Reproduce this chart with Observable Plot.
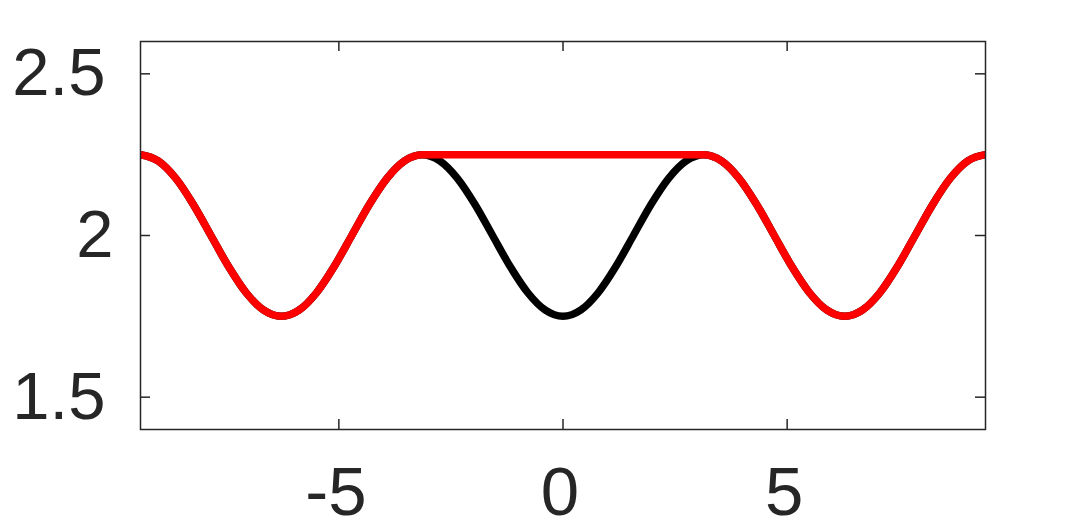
<!DOCTYPE html>
<html>
<head>
<meta charset="utf-8">
<script src="https://cdn.jsdelivr.net/npm/d3@7"></script>
<script src="https://cdn.jsdelivr.net/npm/@observablehq/plot@0.6"></script>
<style>
  html, body { margin: 0; padding: 0; background: #fff; }
  #chart svg { display: block; }
</style>
</head>
<body>
<div id="chart"></div>
<script>
const xValues = [
  -9.425, -9.032, -8.639, -8.247, -7.854, -7.461, -7.069, -6.676, -6.283,
  -5.890, -5.498, -5.105, -4.712, -4.320, -3.927, -3.534, -3.142,
  -2.749, -2.356, -1.963, -1.571, -1.178, -0.785, -0.393, 0,
  0.393, 0.785, 1.178, 1.571, 1.963, 2.356, 2.749, 3.142,
  3.534, 3.927, 4.320, 4.712, 5.105, 5.498, 5.890, 6.283,
  6.676, 7.069, 7.461, 7.854, 8.247, 8.639, 9.032, 9.425
];
const blackValues = [
  2.25, 2.231, 2.177, 2.096, 2.0, 1.904, 1.823, 1.769, 1.75,
  1.769, 1.823, 1.904, 2.0, 2.096, 2.177, 2.231, 2.25,
  2.231, 2.177, 2.096, 2.0, 1.904, 1.823, 1.769, 1.75,
  1.769, 1.823, 1.904, 2.0, 2.096, 2.177, 2.231, 2.25,
  2.231, 2.177, 2.096, 2.0, 1.904, 1.823, 1.769, 1.75,
  1.769, 1.823, 1.904, 2.0, 2.096, 2.177, 2.231, 2.25
];
const redValues = [
  2.25, 2.231, 2.177, 2.096, 2.0, 1.904, 1.823, 1.769, 1.75,
  1.769, 1.823, 1.904, 2.0, 2.096, 2.177, 2.231, 2.25,
  2.25, 2.25, 2.25, 2.25, 2.25, 2.25, 2.25, 2.25,
  2.25, 2.25, 2.25, 2.25, 2.25, 2.25, 2.25, 2.25,
  2.231, 2.177, 2.096, 2.0, 1.904, 1.823, 1.769, 1.75,
  1.769, 1.823, 1.904, 2.0, 2.096, 2.177, 2.231, 2.25
];
const xTicks = [-5, 0, 5];
const yTicks = [1.5, 2, 2.5];
const yTicksFrac = [1.5, 2.5];
const yTicksInt = [2];
const xDomain = [-9.425, 9.425];
const yDomain = [1.4, 2.6];

const black = xValues.map((x, i) => ({x, y: blackValues[i]}));
const red = xValues.map((x, i) => ({x, y: redValues[i]}));

const W = 1087, H = 529, mL = 140, mR = 102, mT = 41, mB = 100;
const innerW = W - mL - mR, innerH = H - mT - mB, tick = 10;
const axisColor = "#262626";
const fmt = d => String(d);
const tickStyle = {stroke: axisColor, strokeWidth: 1.5};
const chart = Plot.plot({
  width: W,
  height: H,
  marginLeft: mL,
  marginRight: mR,
  marginTop: mT,
  marginBottom: mB,
  style: {fontFamily: "'Liberation Sans', Arial, Helvetica, sans-serif", background: "#fff"},
  x: {domain: xDomain},
  y: {domain: yDomain},
  marks: [
    Plot.line(black, {x: "x", y: "y", stroke: "#000", strokeWidth: 7.5, curve: "monotone-x", clip: true}),
    Plot.line(red, {x: "x", y: "y", stroke: "#ff0000", strokeWidth: 7.5, curve: "monotone-x", clip: true}),
    Plot.frame({stroke: axisColor, strokeWidth: 1.5}),
    Plot.ruleX(xTicks, {...tickStyle, insetTop: innerH - tick}),
    Plot.ruleX(xTicks, {...tickStyle, insetBottom: innerH - tick}),
    Plot.ruleY(yTicks, {...tickStyle, insetRight: innerW - tick}),
    Plot.ruleY(yTicks, {...tickStyle, insetLeft: innerW - tick}),
    Plot.axisX(xTicks, {anchor: "bottom", tickSize: 0, tickPadding: 36, dx: -3, fontSize: 69, fill: axisColor, tickFormat: fmt, label: null}),
    Plot.axisY(yTicksFrac, {anchor: "left", tickSize: 0, tickPadding: 35, fontSize: 67, fill: axisColor, tickFormat: fmt, label: null}),
    Plot.axisY(yTicksInt, {anchor: "left", tickSize: 0, tickPadding: 27, fontSize: 67, fill: axisColor, tickFormat: fmt, label: null})
  ]
});
document.getElementById("chart").appendChild(chart);
</script>
</body>
</html>
